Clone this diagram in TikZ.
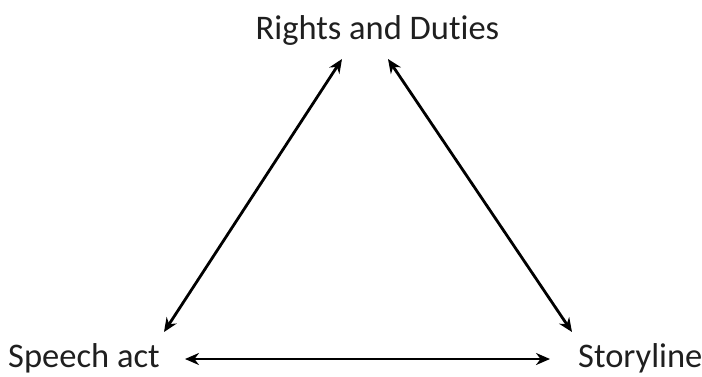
\documentclass[tikz,border=0pt]{standalone}
\usepackage{fontspec}
\setmainfont[Ligatures={NoCommon,NoRare}]{Carlito}
\usetikzlibrary{arrows.meta}
\begin{document}
\begin{tikzpicture}[x=1pt,y=-1pt,
  lbl/.style={inner sep=0pt,anchor=base,font=\fontsize{34.5}{40}\selectfont,text=black!88},
  conn/.style={line width=2.8pt,{Stealth[length=14pt,width=12pt]}-{Stealth[length=14pt,width=12pt]}}]
\useasboundingbox (0,0) rectangle (702,376);
\node[lbl] (rd) at (377.5,39) {Rights and Duties};
\node[lbl,anchor=base west] (sa) at (8,367) {Speech act};
\node[lbl,anchor=base west] (sl) at (578,367) {Storyline};
\coordinate (rdL) at (342,59);
\coordinate (rdR) at (388,59);
\coordinate (saT) at (164,332);
\coordinate (saR) at (185,359);
\coordinate (slT) at (572,332);
\coordinate (slL) at (550,359);
\draw[conn] (rdL) -- (saT);
\draw[conn] (rdR) -- (slT);
\draw[conn] (saR) -- (slL);
\end{tikzpicture}
\end{document}
